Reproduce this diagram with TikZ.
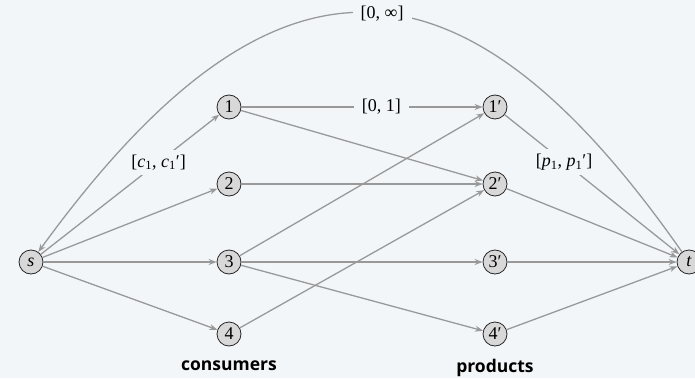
\documentclass[tikz,border=0pt]{standalone}
\usepackage{fontspec}
\setmainfont{Liberation Serif}
\newfontfamily\labelfont{Open Sans}
\usetikzlibrary{arrows.meta}
\definecolor{bgcol}{HTML}{F3F6F9}
\definecolor{edgegray}{HTML}{999999}
\definecolor{vtxfill}{HTML}{D8D8D8}
\newcommand{\sub}[1]{\textsubscript{#1}}

\begin{document}
\begin{tikzpicture}[
  x=1pt, y=1pt,
  vtx/.style={circle, draw=black!85, fill=vtxfill, line width=0.8pt, minimum size=24pt, inner sep=0pt, font=\fontsize{18}{18}\selectfont},
  arr/.style={-{Stealth[length=8pt, width=6pt]}, draw=edgegray, line width=1.3pt},
  lbl/.style={fill=bgcol, inner xsep=8pt, inner ysep=5pt, font=\fontsize{18}{18}\selectfont},
  side/.style={font=\labelfont\bfseries\fontsize{17.5}{17.5}\selectfont}
]
\useasboundingbox (0,0) rectangle (695,378);
\fill[bgcol] (0,0) rectangle (695,378);

% source and sink
\node[vtx] (s) at (31,116) {\textit{s}};
\node[vtx] (t) at (689,116) {\textit{t}};

% consumers and products
\node[vtx] (c1) at (229,271) {1};
\node[vtx] (c2) at (229,194) {2};
\node[vtx] (c3) at (229,116) {3};
\node[vtx] (c4) at (229,44) {4};
\node[vtx] (p1) at (495,271) {1′};
\node[vtx] (p2) at (495,194) {2′};
\node[vtx] (p3) at (495,116) {3′};
\node[vtx] (p4) at (495,44) {4′};

\node[side] (cons) at (229,12) {consumers};
\node[side] (prod) at (495,10) {products};

% edges
\draw[arr] (s) -- (c1) node[lbl, pos=0.66] {[\textit{c}\sub{1}, \textit{c}\sub{1}′]};
\draw[arr] (s) -- (c2);
\draw[arr] (s) -- (c3);
\draw[arr] (s) -- (c4);
\draw[arr] (c1) -- (p1) node[lbl, pos=0.58] {[0, 1]};
\draw[arr] (c1) -- (p2);
\draw[arr] (c2) -- (p2);
\draw[arr] (c3) -- (p1);
\draw[arr] (c3) -- (p3);
\draw[arr] (c3) -- (p4);
\draw[arr] (c4) -- (p2);
\draw[arr] (p1) -- (t) node[lbl, pos=0.34] {[\textit{p}\sub{1}, \textit{p}\sub{1}′]};
\draw[arr] (p2) -- (t);
\draw[arr] (p3) -- (t);
\draw[arr] (p4) -- (t);
\draw[arr] (t) .. controls (459,445) and (270,445) .. (s) node[lbl, pos=0.47] {[0, ∞]};
\end{tikzpicture}
\end{document}
